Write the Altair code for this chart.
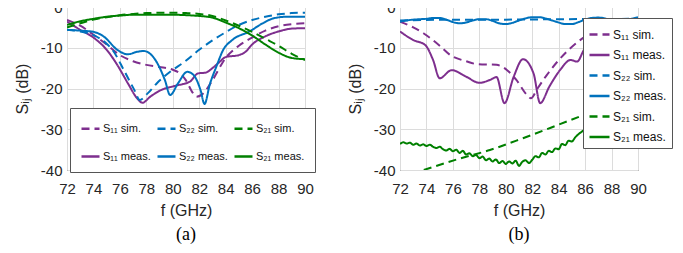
import altair as alt
import pandas as pd

PURPLE = "#7E2F8E"
BLUE = "#0072BD"
GREEN = "#008000"

N11S, N11M = "S₁₁ sim.", "S₁₁ meas."
N22S, N22M = "S₂₂ sim.", "S₂₂ meas."
N21S, N21M = "S₂₁ sim.", "S₂₁ meas."

x_ticks = [72, 74, 76, 78, 80, 82, 84, 86, 88, 90]
y_ticks = [0, -10, -20, -30, -40]

# ---------- panel (a) ----------
a_s11_sim_f = [72, 73, 74, 75, 76, 77, 78, 79, 80, 80.5, 81, 81.5, 81.8, 82.2, 82.6, 83, 84, 85, 86, 87, 88, 89, 90]
a_s11_sim_v = [-3.2, -4.6, -6.8, -9.2, -11.8, -13.3, -14.2, -14.7, -15.4, -16.2, -18, -21, -22, -21.5, -20, -18, -12.5, -9.5, -7.5, -5.8, -4.7, -4.2, -4.0]
a_s11_meas_f = [72, 73, 74, 75, 75.8, 76.6, 77.3, 77.7, 78.3, 79.1, 80.1, 81.3, 81.9, 82.5, 83, 83.5, 84, 85, 85.5, 86, 87, 88, 89, 90]
a_s11_meas_v = [-3.6, -5.6, -7.5, -10.5, -14.2, -18.7, -22.4, -23.5, -22, -20.4, -19.4, -18.3, -16.3, -16.1, -15, -13.6, -12.3, -11.8, -11, -9.2, -7.2, -6, -5.3, -5.2]
a_s22_sim_f = [72, 73, 74, 75, 75.5, 76.3, 77.1, 77.5, 78.1, 78.8, 79.8, 80.9, 82, 83, 84, 85, 86, 87, 88, 89, 90]
a_s22_sim_v = [-5.6, -6, -6.9, -9, -10.8, -15.5, -20.4, -22.8, -21.2, -18.7, -15.9, -13.4, -10.5, -8.2, -6.2, -4.4, -3.2, -2.4, -1.8, -1.5, -1.4]
a_s22_meas_f = [72, 73, 74, 74.8, 75.8, 76.6, 77.3, 77.8, 78.6, 79.4, 79.8, 80.4, 81.1, 81.6, 82.1, 82.4, 82.8, 83.3, 83.8, 84.5, 85.8, 86.8, 87.6, 88.6, 90]
a_s22_meas_v = [-5.6, -5.8, -6.1, -7.3, -10.5, -11.6, -11, -10.8, -12.6, -17.9, -21.6, -18.7, -15.9, -16.8, -20.4, -23.8, -19, -14.6, -10.6, -8.1, -6, -4, -2.8, -2.4, -2.4]
a_s21_sim_f = [72, 73, 74, 75, 76, 77, 78, 79, 80, 81, 82, 83, 84, 85, 86, 87, 88, 89, 90]
a_s21_sim_v = [-5.0, -4.0, -3.1, -2.5, -2.0, -1.7, -1.5, -1.4, -1.4, -1.5, -1.7, -2.2, -3.3, -4.6, -6.1, -7.8, -9.5, -11.5, -13]
a_s21_meas_f = [72, 73, 74, 75, 76, 77, 78, 79, 80, 81, 82, 83, 84, 85, 86, 87, 88, 89, 90]
a_s21_meas_v = [-4.4, -3.5, -2.9, -2.4, -2.1, -1.9, -1.9, -1.9, -1.9, -2.0, -2.2, -2.6, -3.8, -5.2, -7.0, -9.2, -11.2, -12.5, -12.8]

# ---------- panel (b) ----------
b_s11_sim_f = [72, 73, 73.8, 75, 75.8, 77, 77.8, 79.3, 80.1, 80.8, 81.6, 81.9, 82.4, 83.1, 84.6, 85.8, 87, 88, 89, 90]
b_s11_sim_v = [-3.6, -5, -6.5, -9.5, -11.8, -13.3, -14, -14.2, -15.5, -17.9, -21.6, -22.4, -20, -16.7, -11, -7.7, -5.6, -4.8, -4.3, -4.0]
b_s11_meas_f = [72, 73, 73.9, 74.5, 75, 75.9, 77, 78, 78.8, 79.3, 79.9, 80.6, 81.3, 82.1, 82.6, 83.3, 84.1, 84.9, 85.4, 85.9, 87, 88, 89, 90]
b_s11_meas_v = [-6, -8.1, -9.3, -13, -17.5, -15.5, -17.1, -18.6, -17.9, -17.2, -23.6, -17.1, -12.8, -16.3, -23.6, -19.5, -15.5, -13, -13.4, -10.6, -8, -6.5, -5.5, -5]
b_s22_sim_f = [72, 76, 80, 84, 90]
b_s22_sim_v = [-3.3, -3.1, -3.1, -3.0, -2.9]
b_s22_meas_f = [72, 72.5, 73, 73.5, 74, 74.5, 75, 75.5, 76, 76.5, 77, 77.5, 78, 78.5, 79, 79.5, 80, 80.5, 81, 81.5,
                82, 82.5, 83, 83.5, 84, 84.5, 85, 85.5, 86, 86.5, 87, 87.5, 88, 88.5, 89, 89.5, 90]
b_s22_meas_v = [-3.6, -3.3, -3.1, -3.0, -2.9, -2.7, -2.7, -3.1, -3.7, -4.0, -3.8, -3.3, -3.0, -3.0, -3.4, -4.0, -4.2, -3.9, -3.3, -2.8,
                -2.5, -2.5, -2.8, -3.3, -3.8, -4.2, -4.2, -3.7, -3.1, -2.7, -2.6, -2.8, -3.3, -3.6, -3.4, -2.9, -2.5]
b_s21_sim_f = [73.8, 76.3, 78.8, 81.3, 83.9, 85.9, 88, 90]
b_s21_sim_v = [-40, -37.4, -35.1, -32.2, -29, -26.5, -24, -22]
b_s21_meas_f = [72.0, 72.25, 72.5, 72.75, 73.0, 73.25, 73.5, 73.75, 74.0, 74.25, 74.5, 74.75, 75.0, 75.25, 75.5, 75.75,
                76.0, 76.25, 76.5, 76.75, 77.0, 77.25, 77.5, 77.75, 78.0, 78.25, 78.5, 78.75, 79.0, 79.25, 79.5, 79.75,
                80.0, 80.25, 80.5, 80.75, 81.0, 81.25, 81.5, 81.75, 82.0, 82.25, 82.5, 82.75, 83.0, 83.25, 83.5, 83.75,
                84.0, 84.25, 84.5, 84.75, 85.0, 85.25, 85.5, 85.75, 86.0, 86.5, 87.0, 88.0, 89.0, 90.0]
b_s21_meas_v = [-33.6, -33.2, -33.5, -33.3, -33.8, -33.5, -34.0, -33.7, -34.1, -33.8, -34.3, -34.6, -34.3, -34.9, -35.2, -34.8,
                -35.4, -35.0, -35.8, -35.3, -36.2, -35.9, -36.6, -36.3, -37.1, -36.7, -37.6, -37.2, -37.9, -37.4, -38.3, -37.8,
                -38.5, -37.9, -38.4, -37.7, -39.0, -38.0, -37.6, -38.3, -37.5, -36.6, -36.9, -35.8, -36.2, -35.3, -35.6, -34.7,
                -34.9, -33.6, -33.9, -32.8, -33.0, -32.0, -31.2, -30.6, -30.0, -29.5, -29.0, -28.0, -27.0, -26.0]


def long_df(series):
    rows = []
    for name, (fs, vs) in series.items():
        for f, v in zip(fs, vs):
            rows.append({"f": f, "v": v, "s": name})
    return pd.DataFrame(rows)


df_a = long_df({
    N11S: (a_s11_sim_f, a_s11_sim_v), N11M: (a_s11_meas_f, a_s11_meas_v),
    N22S: (a_s22_sim_f, a_s22_sim_v), N22M: (a_s22_meas_f, a_s22_meas_v),
    N21S: (a_s21_sim_f, a_s21_sim_v), N21M: (a_s21_meas_f, a_s21_meas_v),
})
df_b = long_df({
    N11S: (b_s11_sim_f, b_s11_sim_v), N11M: (b_s11_meas_f, b_s11_meas_v),
    N22S: (b_s22_sim_f, b_s22_sim_v), N22M: (b_s22_meas_f, b_s22_meas_v),
    N21S: (b_s21_sim_f, b_s21_sim_v), N21M: (b_s21_meas_f, b_s21_meas_v),
})

DASH = [8, 5]
SOLID = [1, 0]
COLOR_OF = {N11S: PURPLE, N11M: PURPLE, N22S: BLUE, N22M: BLUE, N21S: GREEN, N21M: GREEN}
DASH_OF = {N11S: DASH, N22S: DASH, N21S: DASH, N11M: SOLID, N22M: SOLID, N21M: SOLID}

# legend fills column by column
order_a = [N11S, N11M, N22S, N22M, N21S, N21M]
order_b = [N11S, N11M, N22S, N22M, N21S, N21M]

legend_a = alt.Legend(title=None, orient="none", legendX=3, legendY=101, columns=3,
                      symbolType="stroke", symbolSize=324, symbolStrokeWidth=2.5,
                      labelFont="Liberation Sans", labelFontSize=11, labelColor="#111",
                      labelOffset=2, padding=10, rowPadding=12, columnPadding=1,
                      strokeColor="#555", fillColor="white")
legend_b = alt.Legend(title=None, orient="none", legendX=183, legendY=11, columns=1,
                      symbolType="stroke", symbolSize=400, symbolStrokeWidth=2.5,
                      labelFont="Liberation Sans", labelFontSize=12, labelColor="#111",
                      labelOffset=2, padding=5, rowPadding=2.5,
                      strokeColor="#555", fillColor="white")


def panel(df, order, legend, label):
    return alt.Chart(df).mark_line(strokeWidth=2, clip=True, interpolate="monotone").encode(
        x=alt.X("f:Q", scale=alt.Scale(domain=[72, 90], nice=False),
                axis=alt.Axis(values=x_ticks, title="f (GHz)", labelFlush=False)),
        y=alt.Y("v:Q", scale=alt.Scale(domain=[-40, 0], nice=False),
                axis=alt.Axis(values=y_ticks, title="Sᵢⱼ (dB)", labelExpr="'' + datum.value")),
        color=alt.Color("s:N", scale=alt.Scale(domain=order, range=[COLOR_OF[s] for s in order]), legend=legend),
        strokeDash=alt.StrokeDash("s:N", scale=alt.Scale(domain=order, range=[DASH_OF[s] for s in order]), legend=legend),
    ).properties(
        width=238, height=163,
        title=alt.TitleParams(label, orient="bottom", font="Liberation Serif", fontSize=18,
                              fontWeight="normal", color="#000", offset=8),
    )


chart = alt.hconcat(
    panel(df_a, order_a, legend_a, "(a)"),
    panel(df_b, order_b, legend_b, "(b)"),
    spacing=30,
).resolve_scale(
    color="independent", strokeDash="independent"
).resolve_legend(
    color="independent", strokeDash="independent"
).properties(
    padding={"left": 5, "top": -9, "right": 0, "bottom": 0}
).configure_view(
    stroke="#262626", strokeWidth=1
).configure_axis(
    labelFont="Liberation Sans", labelFontSize=15, labelColor="#262626",
    titleFont="Liberation Sans", titleFontSize=16, titleFontWeight="normal", titleColor="#262626",
    gridColor="#dcdcdc", gridWidth=1, domain=False, ticks=False,
).configure_axisX(
    labelPadding=11, titlePadding=6
).configure_axisY(
    labelPadding=5, titlePadding=10
)

chart.save("out.html", embed_options={"renderer": "svg", "actions": False})
